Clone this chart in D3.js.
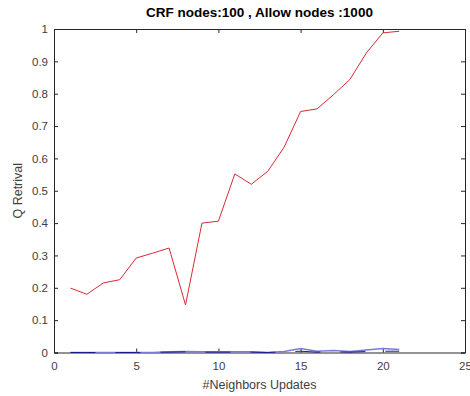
<!DOCTYPE html>
<html><head><meta charset="utf-8">
<script src="https://cdn.jsdelivr.net/npm/d3@7"></script>
<style>body{margin:0;background:#fff}svg{display:block}</style>
</head><body>
<script>
const xs = [1,2,3,4,5,6,7,8,9,10,11,12,13,14,15,16,17,18,19,20,21];
const redVals = [0.199,0.18,0.215,0.225,0.292,0.307,0.323,0.147,0.40,0.406,0.552,0.52,0.56,0.635,0.745,0.753,0.797,0.844,0.926,0.988,0.993];
const blueVals = [0,0,0,0,0,0,0.002,0.003,0.002,0.002,0.002,0.002,0,0.003,0.012,0.004,0.006,0.003,0.008,0.012,0.009];
const navyVals = [0,0,0,0,0,0.001,0.001,0.002,0.001,0.001,0.001,0.001,0,0.002,0.004,0.001,0.002,0.001,0.003,0.004,0.004];
const xTicks = [0,5,10,15,20,25];
const yTicks = [0,0.1,0.2,0.3,0.4,0.5,0.6,0.7,0.8,0.9,1];

const W=470,H=396, L=54, R=465, T=29, B=352.5;
const svg=d3.select("body").append("svg").attr("width",W).attr("height",H)
  .style("font-family","'Liberation Sans', Arial, sans-serif");
const x=d3.scaleLinear().domain([0,25]).range([L,R]);
const y=d3.scaleLinear().domain([0,1]).range([B,T]);
const axc="#262626", txc="#404040";

const fmt=d=>d===0?"0":(d===1?"1":String(d));
const gx=svg.append("g").attr("transform",`translate(0,${B})`)
  .call(d3.axisBottom(x).tickValues(xTicks).tickSize(-4).tickPadding(9).tickFormat(fmt));
const gy=svg.append("g").attr("transform",`translate(${L},0)`)
  .call(d3.axisLeft(y).tickValues(yTicks).tickSize(-4).tickPadding(6).tickFormat(fmt));
const gx2=svg.append("g").attr("transform",`translate(0,${T})`)
  .call(d3.axisTop(x).tickValues(xTicks).tickSize(-4).tickFormat(""));
const gy2=svg.append("g").attr("transform",`translate(${R},0)`)
  .call(d3.axisRight(y).tickValues(yTicks).tickSize(-4).tickFormat(""));
[gx,gy,gx2,gy2].forEach(g=>{
  g.selectAll("path").attr("stroke",axc).attr("stroke-width",1);
  g.selectAll("line").attr("stroke",axc);
  g.selectAll("text").attr("fill",txc).style("font-size","11.5px")
   .style("font-family","'Liberation Sans', Arial, sans-serif");
});

const line=d3.line().x((d,i)=>x(xs[i])).y(d=>y(d));
svg.append("path").datum(blueVals).attr("d",line).attr("fill","none").attr("stroke","#7b7bd6").attr("stroke-width",1.5);
svg.append("path").datum(navyVals).attr("d",line).attr("fill","none").attr("stroke","#1a1a8c").attr("stroke-width",1).attr("stroke-dasharray","25,20");
svg.append("path").datum(redVals).attr("d",line).attr("fill","none").attr("stroke","#d92a36").attr("stroke-width",1);

svg.append("text").attr("x",(L+R)/2).attr("y",17).attr("text-anchor","middle")
  .style("font-size","13.5px").style("font-weight","bold").attr("fill","#000")
  .text("CRF nodes:100 , Allow nodes :1000");
svg.append("text").attr("x",(L+R)/2).attr("y",389).attr("text-anchor","middle")
  .style("font-size","12.5px").attr("fill",txc).text("#Neighbors Updates");
svg.append("text").attr("transform",`translate(22,${(T+B)/2}) rotate(-90)`).attr("text-anchor","middle")
  .style("font-size","12.5px").attr("fill",txc).text("Q Retrival");
</script>
</body></html>
